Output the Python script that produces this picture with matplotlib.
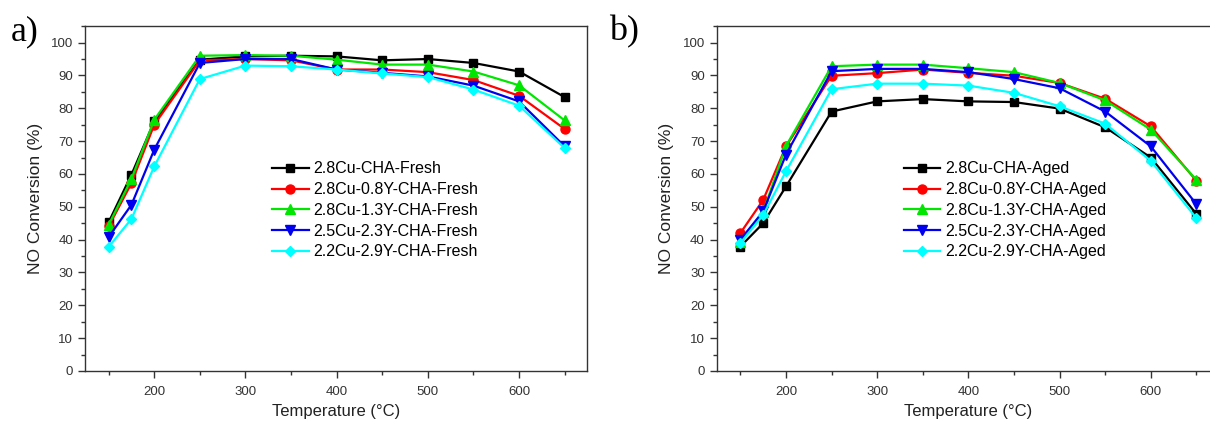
import numpy as np
import matplotlib
matplotlib.use("Agg")
import matplotlib.pyplot as plt
from matplotlib.ticker import MultipleLocator

plt.rcParams["font.family"] = ["Liberation Sans", "DejaVu Sans"]

# temperatures (°C)
temps = [150, 175, 200, 250, 300, 350, 400, 450, 500, 550, 600, 650]

# a) fresh samples, NO conversion (%)
fresh_names = ["2.8Cu-CHA-Fresh", "2.8Cu-0.8Y-CHA-Fresh", "2.8Cu-1.3Y-CHA-Fresh",
               "2.5Cu-2.3Y-CHA-Fresh", "2.2Cu-2.9Y-CHA-Fresh"]
fresh_28cu = [45.3, 59.8, 76.0, 94.8, 95.8, 96.0, 95.8, 94.6, 95.0, 93.8, 91.2, 83.4]
fresh_08y = [44.0, 57.2, 75.0, 94.6, 95.0, 94.6, 91.8, 91.8, 91.0, 88.6, 83.8, 73.7]
fresh_13y = [44.5, 58.5, 76.5, 96.0, 96.2, 96.0, 94.8, 93.3, 93.3, 91.2, 87.0, 76.3]
fresh_23y = [40.8, 50.6, 67.4, 93.8, 95.0, 95.0, 91.8, 90.8, 89.7, 86.9, 82.1, 68.4]
fresh_29y = [37.8, 46.3, 62.3, 88.9, 93.0, 92.8, 91.8, 90.6, 89.5, 85.7, 80.8, 67.9]

# b) aged samples, NO conversion (%)
aged_names = ["2.8Cu-CHA-Aged", "2.8Cu-0.8Y-CHA-Aged", "2.8Cu-1.3Y-CHA-Aged",
              "2.5Cu-2.3Y-CHA-Aged", "2.2Cu-2.9Y-CHA-Aged"]
aged_28cu = [37.9, 45.0, 56.2, 79.0, 82.1, 82.8, 82.1, 81.9, 79.9, 74.2, 65.0, 47.8]
aged_08y = [42.0, 52.1, 68.4, 89.9, 90.7, 91.8, 90.8, 89.9, 87.7, 82.9, 74.5, 57.9]
aged_13y = [39.4, 48.5, 68.5, 92.8, 93.3, 93.3, 92.2, 91.0, 87.7, 82.4, 73.5, 58.2]
aged_23y = [40.0, 48.6, 65.9, 91.3, 92.0, 92.0, 91.0, 88.9, 86.1, 79.0, 68.4, 50.8]
aged_29y = [39.0, 47.5, 60.8, 85.8, 87.5, 87.5, 86.9, 84.7, 80.6, 75.3, 64.0, 46.5]

colors = ["#000000", "#ff0000", "#00e600", "#0000ee", "#00ffff"]
markers = ["s", "o", "^", "v", "D"]
msizes = [6, 6.5, 6.5, 6.5, 5.5]

fig = plt.figure(figsize=(12.1, 4.21), dpi=100)
ax_a = fig.add_axes([0.0702, 0.1188, 0.4153, 0.819])
ax_b = fig.add_axes([0.5923, 0.1188, 0.4153, 0.819])

panels = [
    (ax_a, "a)", fresh_names, [fresh_28cu, fresh_08y, fresh_13y, fresh_23y, fresh_29y], 0.0207, 0.35),
    (ax_b, "b)", aged_names, [aged_28cu, aged_08y, aged_13y, aged_23y, aged_29y], 0.5160, 0.35),
]

for ax, tag, names, series, tag_x, leg_x in panels:
    for name, vals, c, m, ms in zip(names, series, colors, markers, msizes):
        ax.plot(temps, vals, color=c, marker=m, markersize=ms, linewidth=1.6,
                markeredgecolor=c, label=name)
    ax.set_xlim(124, 675)
    ax.set_ylim(0, 105)
    ax.xaxis.set_major_locator(MultipleLocator(100))
    ax.xaxis.set_minor_locator(MultipleLocator(50))
    ax.yaxis.set_major_locator(MultipleLocator(10))
    ax.yaxis.set_minor_locator(MultipleLocator(5))
    ax.tick_params(which="major", direction="out", length=5, width=1,
                   labelsize=9.5, labelcolor="#333333", color="#333333")
    ax.tick_params(which="minor", direction="out", length=3, width=1, color="#333333")
    ax.tick_params(axis="x", which="major", pad=6)
    for s in ax.spines.values():
        s.set_color("#333333")
        s.set_linewidth(1.0)
    ax.set_xlabel("Temperature (°C)", fontsize=12, color="#222222", labelpad=4)
    ax.set_ylabel("NO Conversion (%)", fontsize=12.5, color="#222222", labelpad=6)
    ax.legend(loc="upper left", bbox_to_anchor=(leg_x, 0.64),
              frameon=False, fontsize=11.5, handlelength=2.3, handletextpad=0.3,
              labelspacing=0.36, borderpad=0.2)
    fig.text(tag_x, 0.925, tag, fontsize=26, family=["Liberation Serif", "DejaVu Serif"],
             ha="center", va="center")

fig.savefig("out.png", dpi=100)
